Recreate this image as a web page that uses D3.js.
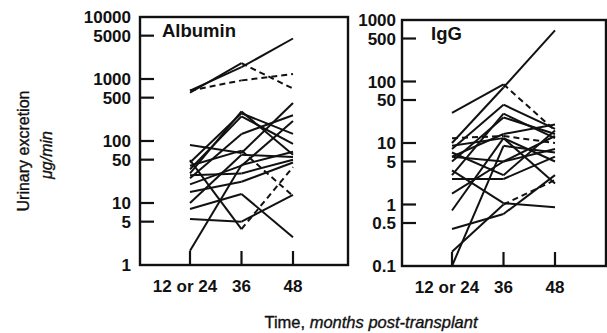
<!DOCTYPE html>
<html>
<head>
<meta charset="utf-8">
<script src="https://cdn.jsdelivr.net/npm/d3@7"></script>
<style>
  body { margin: 0; background: #fff; }
  svg { display: block; font-family: "Liberation Sans", Arial, sans-serif; }
</style>
</head>
<body>
<svg id="chart" width="607" height="333"></svg>
<script>
// time points on the x axis
const timeLabels = ['12 or 24', '36', '48'];

// y tick values for each panel
const albuminTicks = [10000, 5000, 1000, 500, 100, 50, 10, 5, 1];
const iggTicks = [1000, 500, 100, 50, 10, 5, 1, 0.5, 0.1];

// one row per patient: values at 12/24, 36, 48 months (ug/min)
const albuminValues = [
  [650, 1550, 4500],
  [600, 1800, 700],
  [650, 950, 1200],
  [45, 280, 130],
  [35, 250, 90],
  [86, 64, 410],
  [25, 130, 260],
  [20, 40, 210],
  [49, 3.8, 38],
  [8, 14, 2.8],
  [5.5, 5, 13.5],
  [1.7, 41, 67],
  [10, 60, 55],
  [28, 30, 50],
  [40, 70, 13],
  [30, 300, 60],
  [15, 22, 45]
];
// dashed flag per segment (12/24->36, 36->48)
const albuminDashed = [
  [0, 0], [0, 1], [1, 1], [0, 0], [0, 0], [0, 0], [0, 0], [0, 0],
  [0, 1], [0, 0], [0, 0], [0, 0], [0, 0], [0, 0], [0, 1], [0, 0], [0, 0]
];

const iggValues = [
  [10, 80, 680],
  [31, 90, 16],
  [8, 42, 17],
  [5, 26, 14],
  [12, 13, 10],
  [6, 14, 20],
  [9, 12, 5],
  [3.6, 1.05, 0.9],
  [2.6, 2.6, 6],
  [0.4, 0.7, 3],
  [0.17, 1.0, 2.5],
  [0.1, 9, 7],
  [1.5, 5, 8],
  [6, 5, 13],
  [3, 30, 12],
  [0.8, 12, 2.2],
  [7, 3, 16]
];
const iggDashed = [
  [0, 0], [0, 1], [0, 0], [0, 0], [1, 1], [0, 0], [0, 0], [0, 0],
  [0, 0], [0, 0], [0, 1], [0, 0], [0, 0], [0, 0], [0, 0], [0, 0], [0, 0]
];

const svg = d3.select('#chart');

function drawPanel(opts) {
  const { left, right, top, bottom, domain, ticks, values, dashed, title, labelX } = opts;
  const g = svg.append('g');

  const x = d3.scaleLinear().domain([0, 2]).range([left + 50, left + 153]);
  const y = d3.scaleLog().domain(domain).range([bottom, top]);

  // data lines
  const line = d3.line().x(d => x(d[0])).y(d => y(d[1]));
  values.forEach((row, i) => {
    for (let s = 0; s < 2; s++) {
      g.append('path')
        .attr('d', line([[s, row[s]], [s + 1, row[s + 1]]]))
        .attr('fill', 'none')
        .attr('stroke', '#111')
        .attr('stroke-width', 2)
        .attr('stroke-dasharray', dashed[i][s] ? '6,4' : null);
    }
  });

  // frame
  g.append('rect')
    .attr('x', left).attr('y', top)
    .attr('width', right - left).attr('height', bottom - top)
    .attr('fill', 'none')
    .attr('stroke', '#111')
    .attr('stroke-width', 2.4);

  // y ticks (inward) and labels
  ticks.forEach(t => {
    const ty = y(t);
    if (t !== domain[0] && t !== domain[1]) {
      g.append('line')
        .attr('x1', left).attr('x2', left + 14)
        .attr('y1', ty).attr('y2', ty)
        .attr('stroke', '#111').attr('stroke-width', 2.2);
    }
    g.append('text')
      .attr('x', labelX).attr('y', ty)
      .attr('dy', '0.36em')
      .attr('text-anchor', 'end')
      .attr('font-size', 17).attr('font-weight', 'bold')
      .attr('fill', '#111')
      .text(t);
  });

  // x ticks (inward) and labels
  timeLabels.forEach((lab, i) => {
    g.append('line')
      .attr('x1', x(i)).attr('x2', x(i))
      .attr('y1', bottom).attr('y2', bottom - 14)
      .attr('stroke', '#111').attr('stroke-width', 2.2);
    g.append('text')
      .attr('x', x(i) + (i === 0 ? -5 : 0)).attr('y', bottom + 27)
      .attr('text-anchor', 'middle')
      .attr('font-size', 17).attr('font-weight', 'bold')
      .attr('fill', '#111')
      .text(lab);
  });

  g.append('text')
    .attr('x', title.x).attr('y', top + 20)
    .attr('font-size', 18.5).attr('font-weight', 'bold')
    .attr('fill', '#111')
    .text(title.text);
}

drawPanel({
  left: 140, right: 348, top: 17, bottom: 265,
  domain: [1, 10000], ticks: albuminTicks,
  values: albuminValues, dashed: albuminDashed,
  title: { x: 162, text: 'Albumin' }, labelX: 131
});

drawPanel({
  left: 402, right: 606, top: 20, bottom: 266,
  domain: [0.1, 1000], ticks: iggTicks,
  values: iggValues, dashed: iggDashed,
  title: { x: 431, text: 'IgG' }, labelX: 396
});

// axis titles
svg.append('text')
  .attr('transform', 'translate(29,151) rotate(-90)')
  .attr('text-anchor', 'middle')
  .attr('font-size', 16)
  .attr('fill', '#111')
  .attr('stroke', '#111').attr('stroke-width', 0.35)
  .text('Urinary excretion');

svg.append('text')
  .attr('transform', 'translate(52,155) rotate(-90)')
  .attr('text-anchor', 'middle')
  .attr('font-size', 16)
  .attr('font-style', 'italic')
  .attr('fill', '#111')
  .attr('stroke', '#111').attr('stroke-width', 0.35)
  .text('\u03bcg/min');

const xt = svg.append('text')
  .attr('x', 371).attr('y', 328)
  .attr('text-anchor', 'middle')
  .attr('font-size', 16.5)
  .attr('fill', '#111')
  .attr('stroke', '#111').attr('stroke-width', 0.35);
xt.append('tspan').text('Time, ');
xt.append('tspan').attr('font-style', 'italic').text('months post-transplant');
</script>
</body>
</html>
